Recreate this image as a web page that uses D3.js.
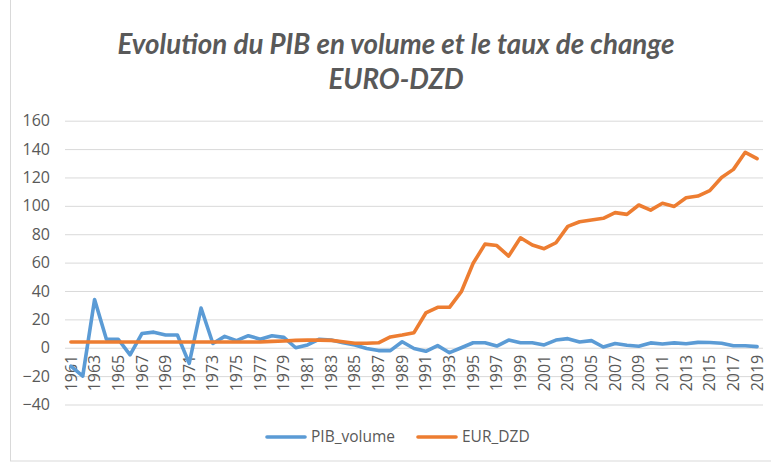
<!DOCTYPE html>
<html>
<head>
<meta charset="utf-8">
<script src="https://cdn.jsdelivr.net/npm/d3@7"></script>
<style>
  html, body { margin: 0; padding: 0; background: #fff; }
  svg { display: block; }
  text { font-family: "Open Sans", "Liberation Sans", sans-serif; }
</style>
</head>
<body>
<svg id="chart" width="771" height="467"></svg>
<script>
const years = d3.range(1961, 2020);
const pibVolume = [-13, -20, 34, 6, 6, -5, 10, 11, 9, 9, -11, 28, 3, 8, 5, 8.5, 6, 8.5, 7.3, 0,
  2, 6, 5.4, 3.5, 2, -0.5, -2, -2, 4.2, -0.5, -2.5, 1.5, -3.5, 0, 3.5, 3.5, 1.2, 5.4, 3.5, 3.5,
  2, 5.4, 6.4, 4, 5, 0.5, 3, 1.8, 1, 3.4, 2.6, 3.4, 2.8, 3.8, 3.7, 3.2, 1.4, 1.4, 0.8];
const eurDzd = [4, 4, 4, 4, 4, 4, 4, 4, 4, 4, 4, 4, 4, 4, 4, 4, 4, 4.5, 4.8, 5.2,
  5.4, 5.4, 5.2, 4.2, 3.2, 3.2, 3.5, 7.6, 9, 10.6, 24.5, 28.5, 28.5, 39.5, 59.5, 73, 72, 64.6, 77.5, 72.4,
  69.8, 74, 85.5, 88.8, 90, 91.2, 95.2, 94, 100.6, 97, 101.8, 99.6, 105.7, 106.9, 110.7, 120, 125.7, 137.7, 133.3];
const yTicks = [-40, -20, 0, 20, 40, 60, 80, 100, 120, 140, 160];
const xTickLabels = years.filter((d, i) => i % 2 === 0);
const seriesNames = ["PIB_volume", "EUR_DZD"];
const seriesColors = ["#5B9BD5", "#ED7D31"];
const titleLines = ["Evolution du PIB en volume et le taux de change", "EURO-DZD"];

const svg = d3.select("#chart");
const W = 771, H = 467;

// chart border
svg.append("rect").attr("x", 10.5).attr("y", -2).attr("width", W).attr("height", 463)
  .attr("fill", "none").attr("stroke", "#D9D9D9");

const x = d3.scaleBand().domain(years).range([65, 763]);
const y = d3.scaleLinear().domain([-40, 160]).range([404.5, 120.7]);
const cx = d => x(d) + x.bandwidth() / 2;

// gridlines
const grid = svg.append("g").attr("transform", "translate(65,0)")
  .call(d3.axisLeft(y).tickValues(yTicks).tickSize(-698).tickFormat(""));
grid.select(".domain").remove();
grid.selectAll("line").attr("stroke", "#D9D9D9").attr("stroke-width", 1);

// y labels
const yAx = svg.append("g").attr("transform", "translate(50,0)")
  .call(d3.axisLeft(y).tickValues(yTicks).tickSize(0).tickPadding(0));
yAx.select(".domain").remove();
yAx.selectAll("text").attr("fill", "#595959").attr("font-size", "16px")
  .style("font-family", "'Open Sans', sans-serif");

// x labels
const xAx = svg.append("g").attr("transform", `translate(0,${y(0)})`)
  .call(d3.axisBottom(x).tickValues(xTickLabels).tickSize(0));
xAx.select(".domain").remove();
xAx.selectAll("text")
  .attr("fill", "#595959").attr("font-size", "16px")
  .style("font-family", "'Open Sans', sans-serif")
  .attr("transform", "rotate(-90)")
  .attr("text-anchor", "end")
  .attr("x", -7).attr("y", 0).attr("dy", "0.35em");

// lines
const data = [pibVolume, eurDzd];
data.forEach((vals, k) => {
  const line = d3.line().x((d, i) => cx(years[i])).y(d => y(d));
  svg.append("path").datum(vals).attr("d", line)
    .attr("fill", "none").attr("stroke", seriesColors[k]).attr("stroke-width", 3.6)
    .attr("stroke-linejoin", "round").attr("stroke-linecap", "round");
});

// title
const title = svg.append("text").attr("text-anchor", "middle")
  .attr("fill", "#595959").attr("font-size", "24px").attr("font-weight", "bold").attr("font-style", "italic")
  .style("font-family", "Lato, sans-serif");
const tspans = titleLines.map((t, i) =>
  title.append("tspan").attr("x", 396).attr("y", 54 + i * 35).text(t));
const w0 = tspans[0].node().getComputedTextLength();
title.attr("font-size", (24 * 557 / w0).toFixed(2) + "px");

// legend
const legendX = [267, 418];
seriesNames.forEach((n, k) => {
  const g = svg.append("g");
  g.append("line").attr("x1", legendX[k]).attr("x2", legendX[k] + 38).attr("y1", 437).attr("y2", 437)
    .attr("stroke", seriesColors[k]).attr("stroke-width", 3.6).attr("stroke-linecap", "round");
  g.append("text").attr("x", legendX[k] + 44).attr("y", 437).attr("dy", "0.35em")
    .attr("fill", "#595959").attr("font-size", "15.5px").text(n);
});
</script>
</body>
</html>
